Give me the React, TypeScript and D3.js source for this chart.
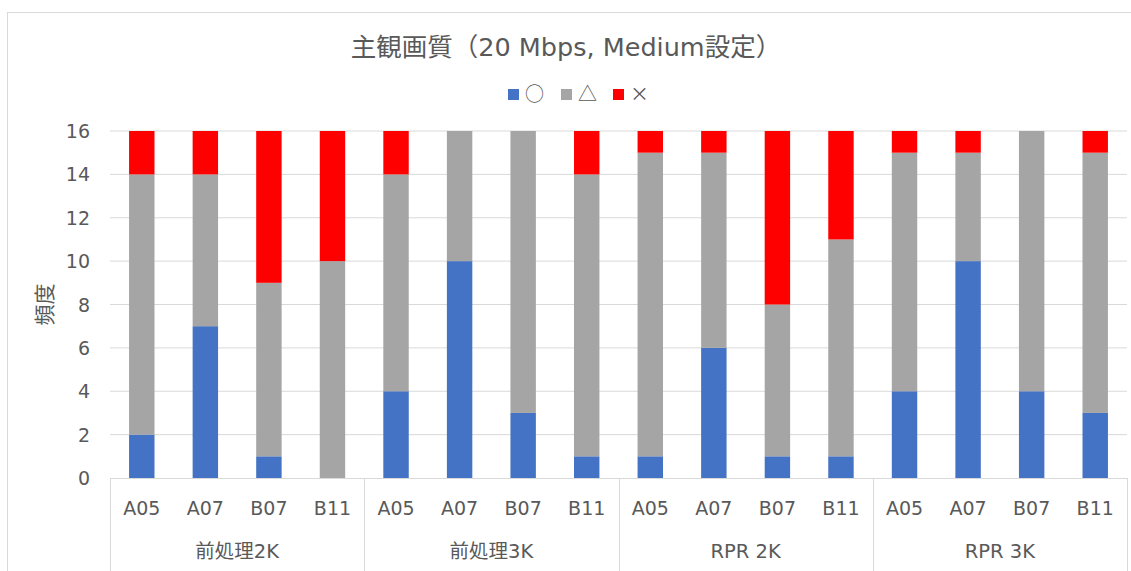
import React from "react";
import * as d3 from "d3";

const groups = ["前処理2K", "前処理3K", "RPR 2K", "RPR 3K"];
const items = ["A05", "A07", "B07", "B11"];
const seriesNames = ["○", "△", "×"];
const seriesColors = ["#4472C4", "#A5A5A5", "#FF0000"];
// values in order: group-major, item-minor
const circleVals = [2, 7, 1, 0, 4, 10, 3, 1, 1, 6, 1, 1, 4, 10, 4, 3];
const triangleVals = [12, 7, 8, 10, 10, 6, 13, 13, 14, 9, 7, 10, 11, 5, 12, 12];
const crossVals = [2, 2, 7, 6, 2, 0, 0, 2, 1, 1, 8, 5, 1, 1, 0, 1];
const yTicks = [0, 2, 4, 6, 8, 10, 12, 14, 16];

const W = 1131;
const H = 571;
const left = 110;
const right = 1127;
const top = 131;
const bottom = 478;
const textColor = "#595959";
const font = "DejaVu Sans, Noto Sans CJK JP, sans-serif";
const ts = (size: number) => ({ fontFamily: font, fontSize: size + "px", fill: textColor });

export default function App() {
  const cats = groups.flatMap((g) => items.map((it) => `${g}|${it}`));
  const x = d3.scaleBand().domain(cats).range([left, right]).paddingInner(0.6).paddingOuter(0.3);
  const y = d3.scaleLinear().domain([0, 16]).range([bottom, top]);
  const rows = cats.map((c, i) => ({ cat: c, o: circleVals[i], t: triangleVals[i], x: crossVals[i] }));
  const stack = d3.stack<any>().keys(["o", "t", "x"])(rows);
  const step = (right - left) / cats.length;
  const groupX = d3.scaleBand().domain(groups).range([left, right]);

  return (
    <svg width={W} height={H} style={{ position: "absolute", left: 0, top: 0, background: "#fff" }}>
      <rect x={7.5} y={12.5} width={W + 10} height={H} fill="#fff" stroke="#D9D9D9" />
      <text x={566} y={56} textAnchor="middle" style={ts(25.5)}>
        主観画質（20 Mbps, Medium設定）
      </text>
      {/* legend */}
      {seriesNames.map((s, i) => {
        const lx = [508, 561, 613][i];
        return (
          <g key={s}>
            <rect x={lx} y={89} width={11} height={11} fill={seriesColors[i]} />
            <text x={lx + 17} y={101} style={{ ...ts(19), fontFamily: "Noto Sans CJK JP, sans-serif" }}>
              {s}
            </text>
          </g>
        );
      })}
      {/* grid */}
      {yTicks.map((t) => (
        <g key={t}>
          {t > 0 && <line x1={left} x2={right} y1={y(t)} y2={y(t)} stroke="#D9D9D9" strokeWidth={1} />}
          <text x={90} y={y(t) + 7} textAnchor="end" style={ts(19)}>
            {t}
          </text>
        </g>
      ))}
      {/* bars */}
      {stack.map((layer, li) => (
        <g key={li} fill={seriesColors[li]}>
          {layer.map((d: any, i: number) =>
            d[1] - d[0] > 0 ? (
              <rect key={i} x={x(cats[i])} width={x.bandwidth()} y={y(d[1])} height={y(d[0]) - y(d[1])} />
            ) : null
          )}
        </g>
      ))}
      {/* axis */}
      <line x1={left} x2={right} y1={bottom + 0.5} y2={bottom + 0.5} stroke="#D9D9D9" />
      {[0, 1, 2, 3, 4].map((k) => {
        const xx = Math.round(left + k * step * 4) + 0.5;
        return <line key={k} x1={xx} x2={xx} y1={bottom} y2={H} stroke="#D9D9D9" />;
      })}
      {cats.map((c, i) => (
        <text key={c} x={(x(c) as number) + x.bandwidth() / 2} y={515} textAnchor="middle" style={ts(19)}>
          {items[i % 4]}
        </text>
      ))}
      {groups.map((g) => (
        <text key={g} x={(groupX(g) as number) + groupX.bandwidth() / 2} y={558} textAnchor="middle" style={ts(19.5)}>
          {g}
        </text>
      ))}
      <text transform={`translate(52,${(top + bottom) / 2}) rotate(-90)`} textAnchor="middle" style={ts(21)}>
        頻度
      </text>
    </svg>
  );
}
